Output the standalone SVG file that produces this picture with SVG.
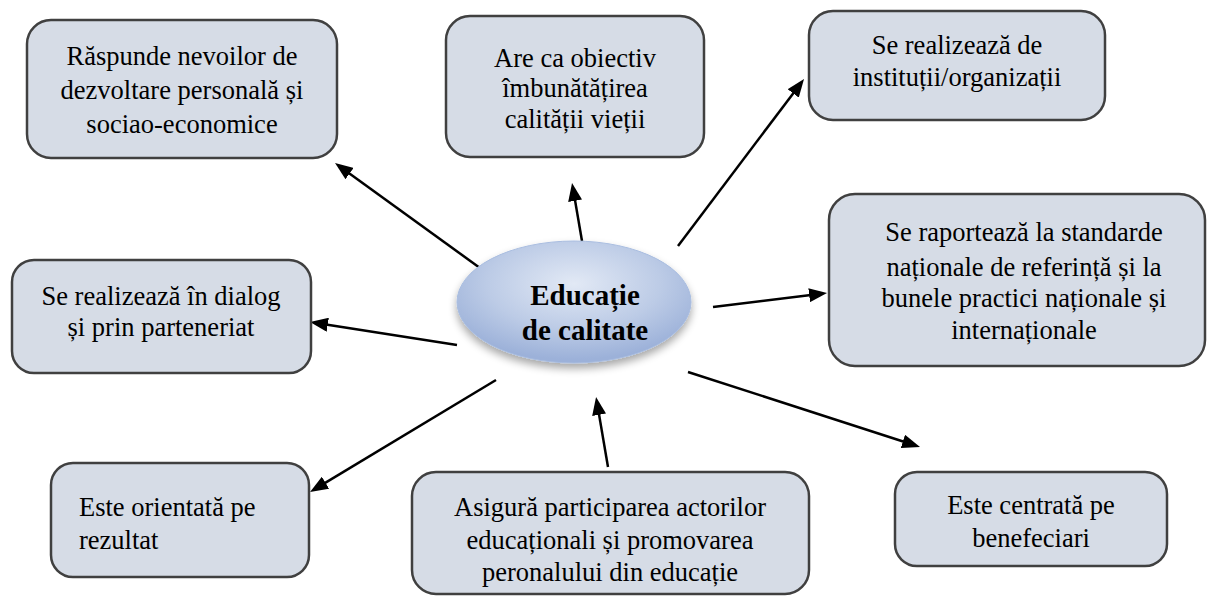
<svg xmlns="http://www.w3.org/2000/svg" width="1207" height="596" viewBox="0 0 1207 596">
<style>
.box{fill:#d6dce6;stroke:#404040;stroke-width:2.5}
.t{font-size:26.5px;fill:#000;text-anchor:middle}
.tl{text-anchor:start}
.c{font-size:29px;font-weight:bold;fill:#000;text-anchor:middle}
.arr{stroke:#000;stroke-width:2.5;fill:none;marker-end:url(#ah)}
</style>
<defs>
<marker id="ah" markerUnits="userSpaceOnUse" markerWidth="18" markerHeight="14" viewBox="0 0 18 14" refX="10" refY="7" orient="auto">
<path d="M0,0 L18,7 L0,14 z" fill="#000"/>
</marker>
<radialGradient id="eg" cx="0.5" cy="0.35" r="0.62">
<stop offset="0" stop-color="#e2e9f5"/>
<stop offset="0.6" stop-color="#bccbe6"/>
<stop offset="1" stop-color="#9cb1d9"/>
</radialGradient>
<filter id="sh" x="-20%" y="-20%" width="140%" height="150%">
<feGaussianBlur in="SourceAlpha" stdDeviation="4"/>
<feOffset dy="5" result="b"/>
<feComponentTransfer><feFuncA type="linear" slope="0.35"/></feComponentTransfer>
<feMerge><feMergeNode/><feMergeNode in="SourceGraphic"/></feMerge>
</filter>
</defs>
<rect width="1207" height="596" fill="#fff"/>
<g id="connectors">
<line class="arr" x1="480" y1="268" x2="341.5" y2="167.7"/>
<line class="arr" x1="582" y1="241" x2="573.4" y2="190.9"/>
<line class="arr" x1="678" y1="246" x2="799.2" y2="85.4"/>
<line class="arr" x1="713" y1="307" x2="819.1" y2="294"/>
<line class="arr" x1="457" y1="345" x2="317.9" y2="323.2"/>
<line class="arr" x1="496" y1="380" x2="316.9" y2="487.9"/>
<line class="arr" x1="608" y1="467" x2="597.4" y2="404.9"/>
<line class="arr" x1="688" y1="372" x2="912.4" y2="444.5"/>
</g>
<g font-family="Liberation Serif, Times New Roman, serif">
<g id="center">
<ellipse cx="574" cy="302" rx="117" ry="61" fill="url(#eg)" stroke="#a9bde0" stroke-width="1" filter="url(#sh)"/>
<text class="c" x="585" y="305">Educație</text>
<text class="c" x="585" y="340">de calitate</text>
</g>
<g id="n1">
<rect class="box" x="27" y="20" width="310" height="138" rx="24"/>
<text class="t" x="182" y="65">Răspunde nevoilor de</text>
<text class="t" x="182" y="99">dezvoltare personală și</text>
<text class="t" x="182" y="133">sociao-economice</text>
</g>
<g id="n2">
<rect class="box" x="446" y="16" width="258" height="141" rx="24"/>
<text class="t" x="575" y="67">Are ca obiectiv</text>
<text class="t" x="575" y="97">îmbunătățirea</text>
<text class="t" x="575" y="128">calității vieții</text>
</g>
<g id="n3">
<rect class="box" x="809" y="11" width="296" height="109" rx="24"/>
<text class="t" x="957" y="54">Se realizează de</text>
<text class="t" x="957" y="86">instituții/organizații</text>
</g>
<g id="n4">
<rect class="box" x="829" y="194" width="376" height="172" rx="26"/>
<text class="t" x="1024" y="241">Se raportează la standarde</text>
<text class="t" x="1024" y="276">naționale de referință și la</text>
<text class="t" x="1024" y="307">bunele practici naționale și</text>
<text class="t" x="1024" y="339">internaționale</text>
</g>
<g id="n5">
<rect class="box" x="12" y="260" width="299" height="113" rx="22"/>
<text class="t" x="161" y="305">Se realizează în dialog</text>
<text class="t" x="161" y="336">și prin parteneriat</text>
</g>
<g id="n6">
<rect class="box" x="51" y="463" width="258" height="114" rx="22"/>
<text class="t tl" x="79" y="516">Este orientată pe</text>
<text class="t tl" x="79" y="549">rezultat</text>
</g>
<g id="n7">
<rect class="box" x="412" y="472" width="397" height="122" rx="24"/>
<text class="t" x="610" y="516">Asigură participarea actorilor</text>
<text class="t" x="610" y="549">educaționali și promovarea</text>
<text class="t" x="610" y="581">peronalului din educație</text>
</g>
<g id="n8">
<rect class="box" x="895" y="472" width="272" height="94" rx="22"/>
<text class="t" x="1031" y="514">Este centrată pe</text>
<text class="t" x="1031" y="547">benefeciari</text>
</g>
</g>
</svg>
